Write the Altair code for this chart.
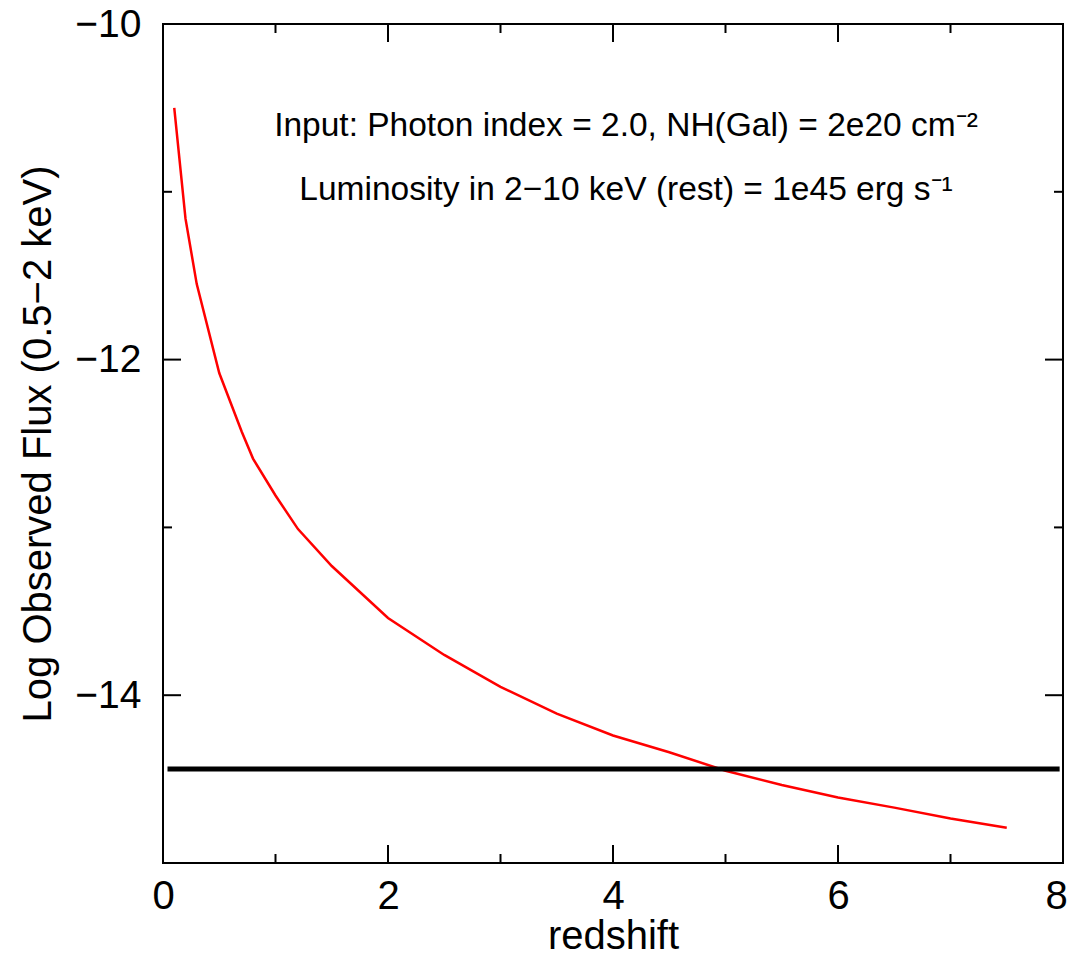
import altair as alt
import pandas as pd

# redshift grid and observed log flux
redshift = [0.1, 0.2, 0.3, 0.5, 0.7, 0.8, 1.0, 1.2, 1.5, 2.0, 2.5, 3.0, 3.5,
            4.0, 4.5, 5.0, 5.5, 6.0, 6.5, 7.0, 7.5]
log_flux = [-10.50, -11.16, -11.55, -12.08, -12.43, -12.59, -12.81, -13.01,
            -13.23, -13.54, -13.76, -13.95, -14.11, -14.24, -14.34, -14.45,
            -14.535, -14.61, -14.67, -14.735, -14.79]

# flux limit line
limit_z = [0.04, 7.97]
limit_flux = [-14.44, -14.44]

x_major = [0, 2, 4, 6, 8]
x_minor = [1, 3, 5, 7]
y_major = [-10, -12, -14]
y_minor = [-11, -13]

notes = ["Input: Photon index = 2.0, NH(Gal) = 2e20 cm\u207b\u00b2",
         "Luminosity in 2\u221210 keV (rest) = 1e45 erg s\u207b\u00b9"]

W, H = 900, 839
FONT = "Liberation Sans"

xs = alt.Scale(domain=[0, 8], nice=False, zero=False)
ys = alt.Scale(domain=[-15, -10], nice=False, zero=False)

x_axis = alt.Axis(values=x_major, ticks=False, tickSize=0, domain=False,
                  grid=False, labelFontSize=40, labelPadding=13,
                  labelFlush=False,
                  labelOffset={"condition": {"test": "datum.value === 8",
                                             "value": -7}, "value": 0},
                  titleFontSize=40, titleY=85, titleBaseline="alphabetic",
                  labelFont=FONT,
                  titleFont=FONT, titleFontWeight="normal",
                  labelColor="black", titleColor="black")
y_axis = alt.Axis(values=y_major, ticks=False, tickSize=0, domain=False,
                  grid=False, labelFontSize=39, labelPadding=22,
                  labelFlush=False,
                  titleFontSize=40, titlePadding=16, labelFont=FONT,
                  titleFont=FONT, titleFontWeight="normal",
                  labelColor="black", titleColor="black",
                  labelExpr="replace(datum.label, '-', '\u2212')")

X = alt.X("z:Q", scale=xs, title="redshift", axis=x_axis)
Y = alt.Y("flux:Q", scale=ys, title="Log Observed Flux (0.5\u22122 keV)",
          axis=y_axis)

curve_df = pd.DataFrame({"z": redshift, "flux": log_flux})
limit_df = pd.DataFrame({"z": limit_z, "flux": limit_flux})

curve = alt.Chart(curve_df).mark_line(color="#ff0000", strokeWidth=2.5).encode(
    x=X, y=Y, order="z:Q",
)

limit = alt.Chart(limit_df).mark_line(color="black", strokeWidth=5).encode(
    x=X, y=Y,
)

def xticks(vals, length):
    df = pd.DataFrame({"z": vals})
    base = alt.Chart(df).mark_rule(color="black", strokeWidth=2)
    bottom = base.encode(x=X, y=alt.value(H), y2=alt.value(H - length))
    top = base.encode(x=X, y=alt.value(0), y2=alt.value(length))
    return [bottom, top]

def yticks(vals, length):
    df = pd.DataFrame({"flux": vals})
    base = alt.Chart(df).mark_rule(color="black", strokeWidth=2)
    left = base.encode(y=Y, x=alt.value(0), x2=alt.value(length))
    right = base.encode(y=Y, x=alt.value(W), x2=alt.value(W - length))
    return [left, right]

tick_layers = (xticks(x_major, 18) + xticks(x_minor, 9)
               + yticks(y_major, 18) + yticks(y_minor, 9))

text_layers = []
for i, note in enumerate(notes):
    text_layers.append(
        alt.Chart(pd.DataFrame({"note": [note]})).mark_text(
            fontSize=33.5, font=FONT, color="black", align="center",
            baseline="middle").encode(
            text="note:N", x=alt.value(463), y=alt.value(102 + 64 * i))
    )

chart = alt.layer(curve, limit, *tick_layers, *text_layers).properties(
    width=W, height=H,
    autosize=alt.AutoSizeParams(type="none"),
    padding={"left": 155, "top": 16, "right": 4, "bottom": 88},
    background="white",
).configure_view(stroke="black", strokeWidth=2)

chart.save("out.html", embed_options={"renderer": "svg", "actions": False})
